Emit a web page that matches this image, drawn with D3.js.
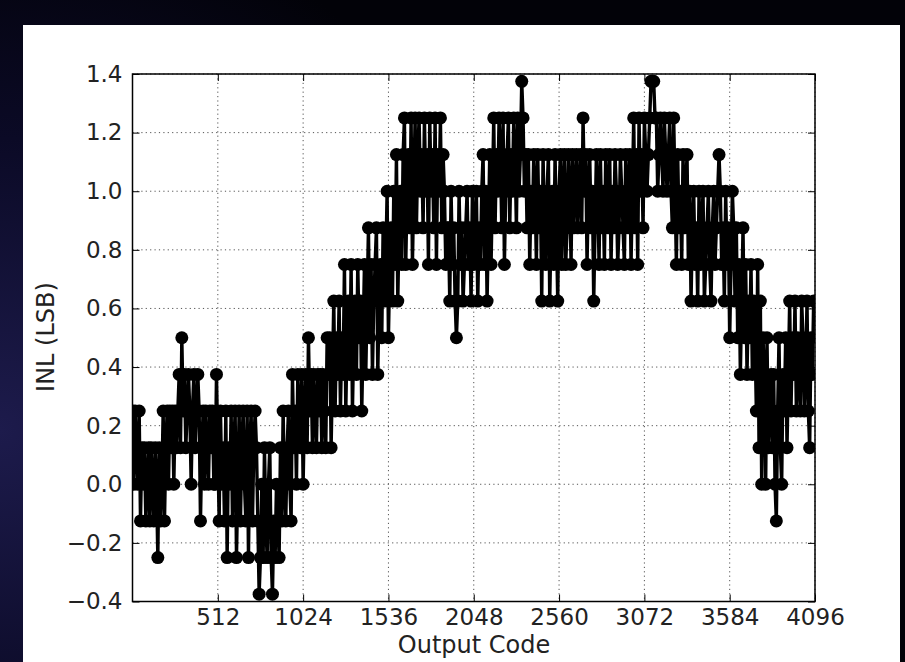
<!DOCTYPE html>
<html>
<head>
<meta charset="utf-8">
<script src="https://cdnjs.cloudflare.com/ajax/libs/d3/7.8.5/d3.min.js"></script>
<style>
	html, body { margin: 0; padding: 0; }
	body {
		width: 905px;
		height: 662px;
		overflow: hidden;
		background: radial-gradient(ellipse 60% 80% at 0% 65%, #1d1b4c 0%, #0b0a26 55%, #020208 100%);
	}
	svg { display: block; }
	.tick text { font-family: 'DejaVu Sans', sans-serif; font-size: 23px; fill: #222; }
	.tick line { stroke: #000; stroke-width: 1; }
	.axisLabel { font-family: 'DejaVu Sans', sans-serif; font-size: 24px; fill: #222; }
	.grid line { stroke: #555; stroke-width: 1; stroke-dasharray: 1.2 3.2; }
</style>
</head>
<body>
<div id="viz"></div>
<script>
// tick labels
codeTicks = [512, 1024, 1536, 2048, 2560, 3072, 3584, 4096];
inlTicks = [-0.4, -0.2, 0.0, 0.2, 0.4, 0.6, 0.8, 1.0, 1.2, 1.4];

// one INL reading (LSB) every 8 output codes
codeStep = 8;

// codes 0 - 1016
inlPart1 = [
	0.25, 0, 0.25, 0.125, 0, 0.25, -0.125, 0.125, 0,
	0.125, -0.125, 0, 0.125, -0.125, 0.125, 0, -0.125, 0.125, 0, -0.25, 0.125, -0.125, 0,
	0.25, -0.125, 0.125, 0.25, 0, 0.25, 0.125, 0.25, 0, 0.25, 0.125, 0.25,
	0.375, 0.125, 0.5, 0.25, 0.375, 0.125, 0.25, 0.375, 0.25, 0, 0.25, 0.375, 0.125, 0.25, 0.375, 0.25,
	-0.125, 0.125, 0.25, 0, 0.25, 0.125, 0, 0.25, 0.125, 0.25, 0,
	0, 0.375, 0.125, -0.125, 0.25, 0, 0.125, -0.125, 0.25, -0.25, 0.125, 0, 0.25, -0.125, 0.125, 0.25, -0.25, 0, 0.25, -0.125, 0.125, 0.25, 0, -0.125, 0.25,
	-0.25, 0.125, 0.25, -0.125, 0.125, 0.25,
	0.125, -0.125, -0.375, -0.25, 0, -0.25, 0.125, -0.125, -0.25, 0, 0.125, -0.25, -0.375, -0.125, -0.25, 0, -0.125, -0.25, 0.125, -0.125,
	0.25, 0, -0.125, 0.125, 0.25, 0, -0.125, 0.375, 0.125, 0.25,
	0, 0.375, 0.25, 0.125, 0.375
];

// codes 1024 - 2040
inlPart2 = [
	0, 0.25, 0.375, 0.125, 0.5,
	0.25, 0.375, 0.125, 0.375, 0.25, 0.125, 0.375, 0.25, 0.375, 0.125, 0.375, 0.25, 0.125, 0.5, 0.375,
	0.5, 0.125, 0.375, 0.625, 0.25, 0.5, 0.375, 0.625, 0.25, 0.5, 0.375,
	0.75, 0.25, 0.5, 0.625, 0.375, 0.75, 0.25, 0.5, 0.625, 0.375, 0.75, 0.5,
	0.625, 0.25, 0.5, 0.75, 0.375, 0.625, 0.875, 0.5, 0.75, 0.375, 0.625, 0.75,
	0.875, 0.375, 0.625, 0.75, 0.5, 0.875, 0.625, 0.75,
	1, 0.5, 0.75, 0.875, 0.625, 1, 0.75,
	1.125, 0.625, 0.875, 1, 0.75, 1.125,
	1.25, 0.75, 1, 1.125, 0.875, 1.25, 0.75,
	1, 1.25, 0.875, 1.125, 1.25, 1, 1.125, 0.875, 1.25, 1, 1.125,
	0.75, 1.25, 1, 1.125, 0.875, 1.25, 0.75, 1.125, 1, 1.25, 0.875, 1.125,
	1, 0.75, 0.875,
	0.875, 0.625, 1, 0.75, 0.875, 0.625, 0.5, 0.625, 1, 0.75,
	0.875, 0.625, 0.75, 0.875,
	1, 0.75, 0.875, 0.625, 1
];

// codes 2048 - 3064
inlPart3 = [
	0.75, 0.875, 1, 0.625, 0.875, 0.75, 1,
	1.125, 0.75, 1, 0.625, 0.875, 1.125, 0.75,
	1, 1.25, 0.875, 1.125, 1, 1.25, 1.125, 0.875, 1.25, 0.75, 1, 1.125, 1.25, 0.875, 1.125, 1, 1.25, 1.125, 0.875, 1.25, 1, 1.125, 1.375, 1.25, 1, 1.125, 0.875,
	1.125, 0.75, 1, 0.875, 1.125, 1, 0.75, 1.125, 0.875,
	1, 0.625, 1.125, 0.875, 0.75, 1, 1.125, 0.625, 0.875, 1, 0.75, 1.125, 0.875, 0.625, 1, 1.125, 0.75,
	1, 1.125, 0.75, 0.875, 1.125, 1, 0.75, 1.125, 0.875, 1,
	1.125, 0.875, 1, 1.125, 0.875, 1.25, 1, 1.125,
	0.75, 1, 1.125, 0.875, 1, 0.625, 0.875, 1.125, 1, 0.75, 1.125, 0.875, 1, 0.75, 1.125, 1, 0.875,
	1.125, 0.75, 1, 0.875, 1.125, 1, 0.75, 0.875, 1.125, 1, 0.875, 0.75, 1.125, 1, 0.875, 1.125, 0.75,
	1, 1.25, 0.875, 1.125, 0.75, 1.25, 1, 1.125, 0.875
];

// codes 3072 - 4088
inlPart4 = [
	1.25, 1.125, 1,
	1.125, 1.25, 1.375, 1.375, 1.375, 1.25, 1.25, 1, 1.125, 1.25, 1.125, 1, 1.25, 1.125, 1, 1.125, 1.25, 1,
	0.875, 1.25, 1, 0.75, 1.125, 0.875, 1, 0.75, 1.125, 0.875, 1, 1.125,
	0.75, 1, 0.625, 0.875, 1, 0.75, 0.875, 0.625, 1, 0.75, 0.875, 1, 0.625, 0.75, 0.875, 1, 0.75,
	0.625, 0.875, 1, 0.75, 0.875, 1, 1.125, 1, 0.75, 0.875, 0.625, 1, 0.75, 0.875, 0.5, 0.75, 1, 0.875,
	0.625, 0.875, 0.5, 0.75, 0.375, 0.625, 0.875,
	0.5, 0.75, 0.375, 0.625, 0.5, 0.75, 0.375, 0.625, 0.5,
	0.25, 0.75, 0.125, 0.625, 0, 0.5,
	0.375, 0, 0.5, 0.125, 0.25, 0.375,
	0.125, 0.375, 0, -0.125, 0.25, 0.5, 0.125, 0, 0.375, 0.25, 0.5, 0.125, 0.375,
	0.625, 0.25, 0.5, 0.375, 0.625, 0.25, 0.5, 0.375, 0.25, 0.625, 0.5, 0.25, 0.375, 0.625, 0.25, 0.125, 0.5, 0.375, 0.625
];

document.addEventListener("DOMContentLoaded", function() {

	inl = inlPart1.concat(inlPart2, inlPart3, inlPart4);
	data = inl.map(function(v, i) {
		return {code: i * codeStep, inl: v};
	});

	// dimensions
	margin = {top: 74, left: 132.5};
	width = 682.5;
	height = 527.5;

	xScale = d3.scaleLinear()
		.domain([0, 4096])
		.range([0, width]);

	yScale = d3.scaleLinear()
		.domain([-0.4, 1.4])
		.range([height, 0]);

	root = d3.select('#viz').append('svg')
		.attr('width', 905)
		.attr('height', 662);

	// white figure panel
	root.append('rect')
		.attr('x', 23)
		.attr('y', 25)
		.attr('width', 877)
		.attr('height', 637)
		.attr('fill', '#fff');

	svg = root.append('g')
		.attr('transform', 'translate(' + margin.left + ',' + margin.top + ')');

	svg.append('clipPath')
		.attr('id', 'plotClip')
		.append('rect')
		.attr('width', width)
		.attr('height', height);

	// dotted grid
	grid = svg.append('g').attr('class', 'grid');

	grid.selectAll('line.v')
		.data(codeTicks)
		.enter()
		.append('line')
		.attr('class', 'v')
		.attr('x1', d => xScale(d))
		.attr('x2', d => xScale(d))
		.attr('y1', 0)
		.attr('y2', height);

	grid.selectAll('line.h')
		.data(inlTicks)
		.enter()
		.append('line')
		.attr('class', 'h')
		.attr('x1', 0)
		.attr('x2', width)
		.attr('y1', d => yScale(d))
		.attr('y2', d => yScale(d));

	// INL trace with markers
	plot = svg.append('g')
		.attr('clip-path', 'url(#plotClip)');

	plot.append('path')
		.datum(data)
		.attr('fill', 'none')
		.attr('stroke', '#000')
		.attr('stroke-width', 3.4)
		.attr('stroke-linejoin', 'round')
		.attr('d', d3.line()
			.x(d => xScale(d.code))
			.y(d => yScale(d.inl)));

	plot.selectAll('circle')
		.data(data)
		.enter()
		.append('circle')
		.attr('cx', d => xScale(d.code))
		.attr('cy', d => yScale(d.inl))
		.attr('r', 6.5)
		.attr('fill', '#000');

	// axes, ticks pointing inwards on all four sides
	xAxis = svg.append('g')
		.attr('transform', 'translate(0,' + height + ')')
		.call(d3.axisBottom(xScale)
			.tickValues(codeTicks)
			.tickSizeInner(-7)
			.tickSizeOuter(0)
			.tickPadding(7.5)
			.tickFormat(d3.format('d')));

	yAxis = svg.append('g')
		.call(d3.axisLeft(yScale)
			.tickValues(inlTicks)
			.tickSizeInner(-7)
			.tickSizeOuter(0)
			.tickPadding(10)
			.tickFormat(d3.format('.1f')));

	svg.append('g')
		.call(d3.axisTop(xScale)
			.tickValues(codeTicks)
			.tickSizeInner(-7)
			.tickSizeOuter(0)
			.tickFormat(''));

	svg.append('g')
		.attr('transform', 'translate(' + width + ',0)')
		.call(d3.axisRight(yScale)
			.tickValues(inlTicks)
			.tickSizeInner(-7)
			.tickSizeOuter(0)
			.tickFormat(''));

	svg.selectAll('.domain').remove();

	// frame
	svg.append('rect')
		.attr('width', width)
		.attr('height', height)
		.attr('fill', 'none')
		.attr('stroke', '#000')
		.attr('stroke-width', 1.5);

	// axis titles
	svg.append('text')
		.attr('class', 'axisLabel')
		.attr('x', 474 - margin.left)
		.attr('y', 653 - margin.top)
		.attr('text-anchor', 'middle')
		.text('Output Code');

	svg.append('text')
		.attr('class', 'axisLabel')
		.attr('transform', 'translate(' + (54 - margin.left) + ',' + (337 - margin.top) + ') rotate(-90)')
		.attr('text-anchor', 'middle')
		.text('INL (LSB)');

});
</script>
</body>
</html>
